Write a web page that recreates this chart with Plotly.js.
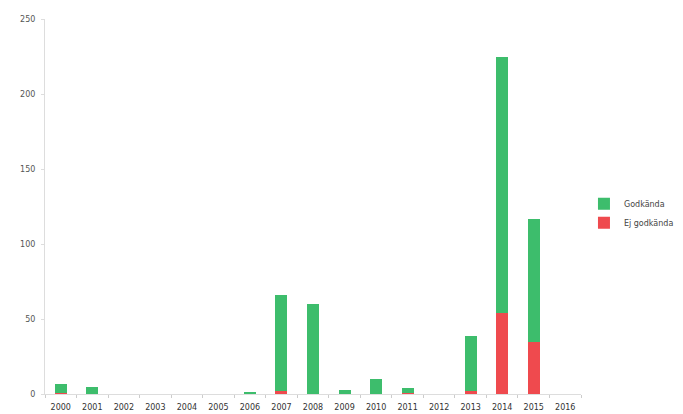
<!DOCTYPE html>
<html><head><meta charset="utf-8">
<script src="https://cdn.plot.ly/plotly-3.0.1.min.js"></script>
<style>body{margin:0;background:#fff}#c{width:683px;height:414px}</style>
</head><body><div id="c"></div>
<script>
var years = ['2000','2001','2002','2003','2004','2005','2006','2007','2008','2009','2010','2011','2012','2013','2014','2015','2016'];
var godkanda = [6, 5, 0, 0, 0, 0, 1, 64, 60, 3, 10, 3, 0, 37, 171, 82, 0];
var ejGodkanda = [1, 0, 0, 0, 0, 0, 0, 2, 0, 0, 0, 1, 0, 2, 54, 35, 0];

var traces = [
  {type:'bar', name:'Ej godkända', x:years, y:ejGodkanda, marker:{color:'#ef4a4e'}, width:0.38},
  {type:'bar', name:'Godkända', x:years, y:godkanda, marker:{color:'#3dbd6c'}, width:0.38}
];
var layout = {
  width:683, height:414,
  margin:{l:45, r:102, t:19, b:20},
  barmode:'stack',
  paper_bgcolor:'#fff', plot_bgcolor:'#fff',
  font:{family:'DejaVu Sans, sans-serif', size:8, color:'#555'},
  showlegend:true,
  legend:{xref:'container', yref:'container', x:0.855, y:0.485, xanchor:'left', yanchor:'middle', font:{size:8, color:'#444'}, itemwidth:30, tracegroupgap:8},
  xaxis:{type:'category', showline:true, linecolor:'#ddd', ticks:'outside', tickson:'boundaries', ticklen:3, tickcolor:'#ccc', showgrid:false, ticklabelstandoff:5, tickfont:{size:8, color:'#333'}},
  yaxis:{range:[0,250], dtick:50, showline:true, linecolor:'#ddd', ticks:'outside', ticklen:3, tickcolor:'#ddd', showgrid:false, zeroline:false, ticklabelstandoff:4, tickfont:{size:8, color:'#555'}}
};
Plotly.newPlot('c', traces, layout, {displayModeBar:false});
</script></body></html>
